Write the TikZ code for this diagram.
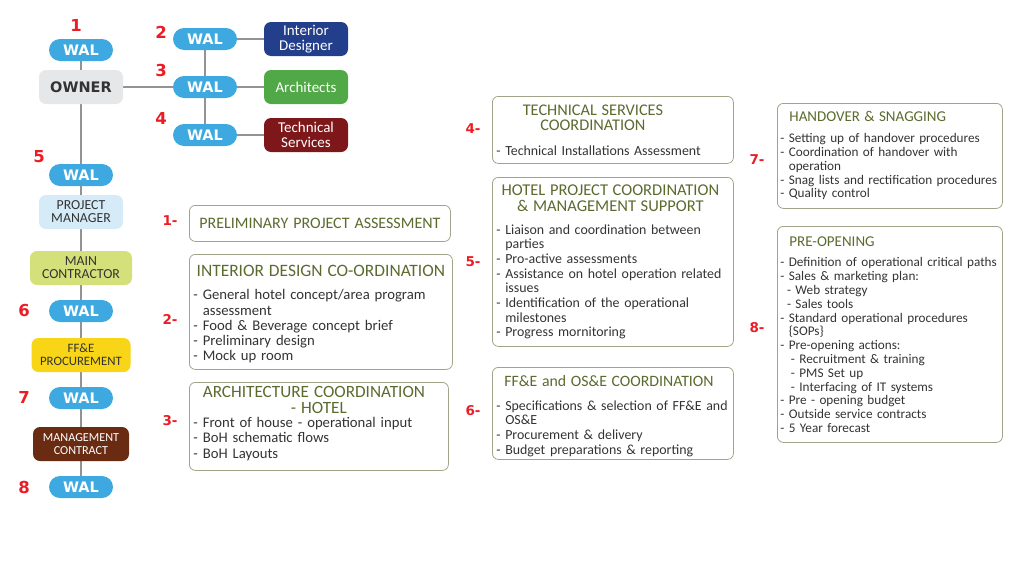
\documentclass[tikz,border=0pt]{standalone}
\usepackage{fontspec}
\setmainfont{Carlito}
\newfontfamily\heavyfont{DejaVu Sans}
\usetikzlibrary{positioning,backgrounds}

\definecolor{walblue}{HTML}{3DA9E0}
\definecolor{ownergray}{HTML}{E6E7E8}
\definecolor{pmblue}{HTML}{D5EBF8}
\definecolor{mcgreen}{HTML}{D4E17B}
\definecolor{ffeyellow}{HTML}{F8D517}
\definecolor{mgmtbrown}{HTML}{6A2B13}
\definecolor{idblue}{HTML}{233E8B}
\definecolor{archgreen}{HTML}{50A846}
\definecolor{techred}{HTML}{7D1719}
\definecolor{numred}{HTML}{EC1C24}
\definecolor{boxline}{HTML}{A3A38A}
\definecolor{titlegreen}{HTML}{5B6A2E}
\definecolor{bodygray}{HTML}{333333}
\definecolor{linegray}{HTML}{939393}

\newcommand{\tasktitle}[2][16]{\makebox[\linewidth][c]{\color{titlegreen}\fontsize{#1}{15}\selectfont #2}}
\newcommand{\lefttitle}[3][16]{\hspace*{#2}{\color{titlegreen}\fontsize{#1}{15}\selectfont #3}}
\newcommand{\cont}{\phantom{- }}

\begin{document}
\hyphenpenalty=10000
\exhyphenpenalty=10000
\begin{tikzpicture}[x=1pt,y=-1pt,
  wal/.style={fill=walblue,text=white,rounded corners=11pt,minimum width=64pt,
    minimum height=22pt,inner sep=0pt,font=\heavyfont\bfseries\fontsize{14.5}{14.5}\selectfont},
  party/.style={rounded corners=7pt,minimum width=84pt,minimum height=34pt,
    inner sep=1pt,align=center,font=\fontsize{15}{15}\selectfont},
  stage/.style={rounded corners=7pt,minimum height=34pt,inner sep=1pt,
    align=center,text=bodygray},
  stepnum/.style={text=numred,font=\heavyfont\bfseries\fontsize{16.5}{16.5}\selectfont},
  steplabel/.style={text=numred,font=\heavyfont\bfseries\fontsize{13.5}{13.5}\selectfont},
  taskbox/.style={draw=boxline,line width=0.8pt,rounded corners=6pt,
    anchor=north west,inner ysep=2pt,align=left,text=bodygray},
  leftbox/.style={taskbox,inner xsep=4pt,font={\fontsize{14.7}{15.3}\selectfont\lineskiplimit=-100pt}},
  midbox/.style={taskbox,inner xsep=4pt,font={\fontsize{13.9}{14.7}\selectfont\lineskiplimit=-100pt}},
  rightbox/.style={taskbox,inner xsep=3pt,font={\fontsize{13.2}{13.8}\selectfont\lineskiplimit=-100pt}},
  link/.style={draw=linegray,line width=1.2pt}]

  \useasboundingbox (0,0) rectangle (1024,576);

  % 左の列
  \node[wal] (wal1) at (81,50) {WAL};
  \node[party,fill=ownergray,text=bodygray,font=\heavyfont\bfseries\fontsize{14.5}{14.5}\selectfont] (owner) at (81,87) {OWNER};
  \node[wal] (wal5) at (81,175) {WAL};
  \node[stage,fill=pmblue,minimum width=84pt,font=\fontsize{13.8}{13}\selectfont] (pm) at (81,212) {PROJECT\\MANAGER};
  \node[stage,fill=mcgreen,minimum width=102pt,font=\fontsize{13.8}{13}\selectfont] (mc) at (81,268) {MAIN\\CONTRACTOR};
  \node[wal] (wal6) at (81,311) {WAL};
  \node[stage,fill=ffeyellow,minimum width=99pt,font=\fontsize{12.8}{13}\selectfont] (ffe) at (81,355) {FF\&E\\PROCUREMENT};
  \node[wal] (wal7) at (81,398) {WAL};
  \node[stage,fill=mgmtbrown,text=white,minimum width=96pt,font=\fontsize{12.2}{13}\selectfont] (mgmt) at (81,444) {MANAGEMENT\\CONTRACT};
  \node[wal] (wal8) at (81,487) {WAL};

  % 設計者
  \node[wal] (wal2) at (205,39) {WAL};
  \node[wal] (wal3) at (205,87) {WAL};
  \node[wal] (wal4) at (205,135) {WAL};
  \node[party,fill=idblue,text=white] (interior) at (306,39) {Interior\\Designer};
  \node[party,fill=archgreen,text=white] (arch) at (306,87) {Architects};
  \node[party,fill=techred,text=white] (tech) at (306,135) {Technical\\Services};

  \begin{scope}[on background layer]
    \draw[link] (wal1) -- (wal8);
    \draw[link] (owner) -- (wal3);
    \draw[link] (wal2) -- (wal4);
    \draw[link] (wal2) -- (interior);
    \draw[link] (wal3) -- (arch);
    \draw[link] (wal4) -- (tech);
  \end{scope}

  % 番号
  \node[stepnum] (num1) at (76,25) {1};
  \node[stepnum] (num2) at (161,32) {2};
  \node[stepnum] (num3) at (161,70) {3};
  \node[stepnum] (num4) at (161,118) {4};
  \node[stepnum] (num5) at (39,157) {5};
  \node[stepnum] (num6) at (24,310) {6};
  \node[stepnum] (num7) at (24,397) {7};
  \node[stepnum] (num8) at (24,487) {8};

  % 業務の枠
  \node[leftbox,minimum width=261pt,minimum height=36pt,text width=253pt] (task1) at (189,205)
    {\tasktitle{PRELIMINARY PROJECT ASSESSMENT}};
  \node[leftbox,minimum width=263pt,minimum height=115pt,text width=255pt] (task2) at (189,254)
    {\rule{0pt}{16pt}\tasktitle[17.4]{INTERIOR DESIGN CO-ORDINATION}\\[8pt]
     - General hotel concept/area program\\
     \cont assessment\\
     - Food \& Beverage concept brief\\
     - Preliminary design\\
     - Mock up room};
  \node[leftbox,minimum width=259pt,minimum height=88pt,text width=251pt] (task3) at (189,382)
    {\tasktitle[17.2]{ARCHITECTURE COORDINATION\hspace*{10pt}}\\[0.7pt]
     \tasktitle[17.2]{- HOTEL}\\[-1.5pt]
     - Front of house - operational input\\
     - BoH schematic flows\\
     - BoH Layouts\rule[-8pt]{0pt}{0pt}};
  \node[midbox,minimum width=241pt,minimum height=67pt,text width=233pt] (task4) at (492,96)
    {\tasktitle[16.3]{TECHNICAL SERVICES\hspace*{40pt}}\\[0.8pt]
     \tasktitle[16.3]{COORDINATION\hspace*{40pt}}\\[10pt]
     - Technical Installations Assessment};
  \node[midbox,minimum width=241pt,minimum height=169pt,text width=233pt] (task5) at (492,177)
    {\tasktitle[16.5]{HOTEL PROJECT COORDINATION\hspace*{5pt}}\\[1.5pt]
     \tasktitle[16.5]{\& MANAGEMENT SUPPORT\hspace*{5pt}}\\[8pt]
     - Liaison and coordination between\\
     \cont parties\\
     - Pro-active assessments\\
     - Assistance on hotel operation related\\
     \cont issues\\
     - Identification of the operational\\
     \cont milestones\\
     - Progress mornitoring};
  \node[midbox,minimum width=241pt,minimum height=92pt,text width=233pt] (task6) at (492,367)
    {\rule{0pt}{16pt}\lefttitle[15.8]{8pt}{FF\&E and OS\&E COORDINATION}\\[9pt]
     - Specifications \& selection of FF\&E and\\
     \cont OS\&E\\
     - Procurement \& delivery\\
     - Budget preparations \& reporting};
  \node[rightbox,minimum width=225pt,minimum height=105pt,text width=219pt] (task7) at (777,103)
    {\lefttitle[15]{9pt}{HANDOVER \& SNAGGING}\\[7pt]
     - Setting up of handover procedures\\
     - Coordination of handover with\\
     \cont operation\\
     - Snag lists and rectification procedures\\
     - Quality control};
  \node[rightbox,minimum width=225pt,minimum height=216pt,text width=219pt] (task8) at (777,226)
    {\lefttitle[15]{9pt}{PRE-OPENING}\\[7pt]
     - Definition of operational critical paths\\
     - Sales \& marketing plan:\\
     \hspace*{0.5em}- Web strategy\\
     \hspace*{0.5em}- Sales tools\\
     - Standard operational procedures\\
     \cont \{SOPs\}\\
     - Pre-opening actions:\\
     \hspace*{0.8em}- Recruitment \& training\\
     \hspace*{0.8em}- PMS Set up\\
     \hspace*{0.8em}- Interfacing of IT systems\\
     - Pre - opening budget\\
     - Outside service contracts\\
     - 5 Year forecast};

  % 枠の番号
  \node[steplabel] (lab1) at (170,221) {1-};
  \node[steplabel] (lab2) at (170,319) {2-};
  \node[steplabel] (lab3) at (170,421) {3-};
  \node[steplabel] (lab4) at (473,129) {4-};
  \node[steplabel] (lab5) at (473,262) {5-};
  \node[steplabel] (lab6) at (473,411) {6-};
  \node[steplabel] (lab7) at (757,160) {7-};
  \node[steplabel] (lab8) at (757,328) {8-};
\end{tikzpicture}
\end{document}
